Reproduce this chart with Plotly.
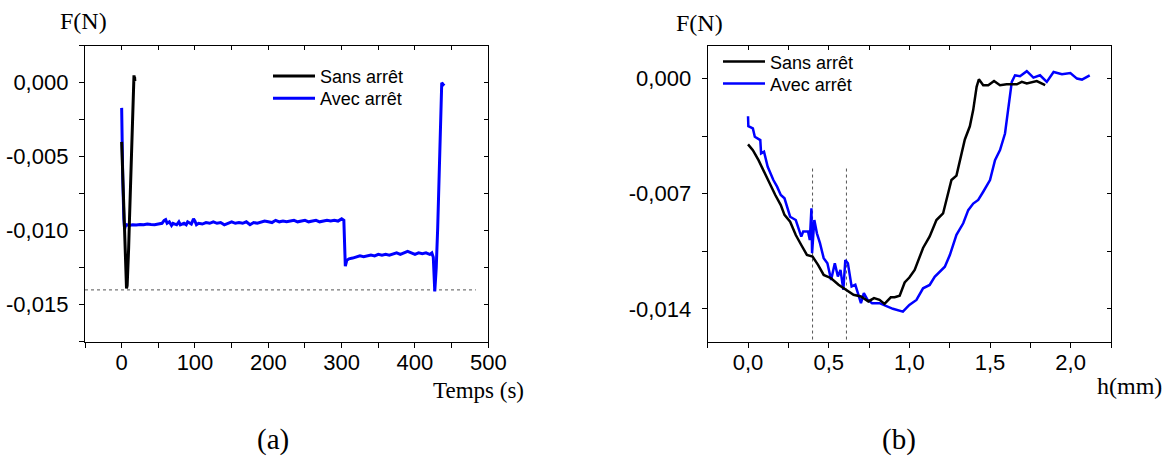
import plotly.graph_objects as go

W, H = 1173, 461

# ---------------- Panel (a): F(N) vs Temps (s) ----------------
t_sans = [0, 1, 2, 3, 4, 5, 6, 6.6, 7.5, 8.5, 9.5, 10.5, 11.5, 12.5, 13.5, 14.5,
          15.5, 16.2, 16.8, 17.2, 17.6, 18]
f_sans = [-0.0040, -0.0055, -0.0072, -0.0088, -0.0104, -0.0120, -0.0133, -0.0139,
          -0.0137, -0.0127, -0.0112, -0.0095, -0.0077, -0.0058, -0.0040, -0.0022,
          -0.0008, 0.0002, 0.0005, 0.0003, 0.0004, 0.0001]

t_avec = [0, 0.5, 1.5, 3, 4, 5, 7, 10, 15, 20, 25, 30, 35, 40, 45, 50, 55, 58, 60, 62,
          65, 68, 70, 75, 78, 80, 85, 88, 90, 95, 98, 100, 102, 105, 110, 115, 120, 125,
          130, 135, 140, 145, 150, 155, 160, 165, 170, 175, 180, 185, 190, 195, 200, 205,
          210, 215, 220, 225, 230, 235, 240, 245, 250, 255, 260, 265, 270, 275, 280, 285,
          290, 295, 300, 303, 305, 307, 310, 315, 320, 325, 330, 335, 340, 345, 350, 355,
          360, 365, 370, 375, 380, 385, 390, 395, 400, 405, 410, 415, 420, 423, 425, 427,
          429, 431, 433, 435, 436.5, 438, 440]
f_avec = [-0.0017, -0.0040, -0.0065, -0.0092, -0.0099, -0.0097, -0.0096, -0.00965,
          -0.0096, -0.00962, -0.00958, -0.0096, -0.00955, -0.00958, -0.0096, -0.00955,
          -0.0095, -0.0093, -0.00925, -0.0095, -0.0094, -0.00965, -0.0095, -0.0096,
          -0.0094, -0.0096, -0.0095, -0.0096, -0.0094, -0.00955, -0.0092, -0.00935,
          -0.0096, -0.0095, -0.00955, -0.00945, -0.0095, -0.0094, -0.0095, -0.00945,
          -0.0096, -0.0095, -0.0094, -0.0095, -0.00945, -0.0095, -0.0094, -0.0096,
          -0.00945, -0.0095, -0.0094, -0.00935, -0.0094, -0.00945, -0.0093, -0.0094,
          -0.00935, -0.0094, -0.00935, -0.0093, -0.0094, -0.00935, -0.0093, -0.0094,
          -0.00935, -0.0093, -0.0094, -0.00935, -0.0093, -0.00935, -0.0093, -0.00935,
          -0.0092, -0.0093, -0.0124, -0.0120, -0.0119, -0.01185, -0.0118, -0.0117,
          -0.01175, -0.0117, -0.01165, -0.0117, -0.0116, -0.01165, -0.0116, -0.01165,
          -0.0116, -0.0115, -0.0116, -0.0115, -0.0114, -0.0115, -0.0116, -0.0115,
          -0.01155, -0.0115, -0.0116, -0.0115, -0.0118, -0.0141, -0.0125, -0.0098,
          -0.0062, -0.0028, 0.0000, -0.0001, -0.0002]

ref_a_x = [-50, 483]
ref_a_y = [-0.014, -0.014]

xa_ticks = [-50, 0, 50, 100, 150, 200, 250, 300, 350, 400, 450, 500]
xa_text = ["", "0", "", "100", "", "200", "", "300", "", "400", "", "500"]
ya_ticks = [-0.0175, -0.015, -0.0125, -0.010, -0.0075, -0.005, -0.0025, 0.0, 0.0025]
ya_text = ["", "-0,015", "", "-0,010", "", "-0,005", "", "0,000", ""]

# ---------------- Panel (b): F(N) vs h(mm) ----------------
h_sans = [0, 0.03, 0.065, 0.099, 0.134, 0.169, 0.203, 0.226, 0.261, 0.296,
          0.330, 0.365, 0.400, 0.434, 0.469, 0.515, 0.561, 0.607, 0.654, 0.700,
          0.746, 0.781, 0.815, 0.846, 0.885, 0.909, 0.940, 0.971, 1.000, 1.033,
          1.085, 1.126, 1.168, 1.209, 1.240, 1.261, 1.292, 1.313, 1.344, 1.375,
          1.396, 1.417, 1.431, 1.458, 1.489, 1.525, 1.562, 1.603, 1.666, 1.697,
          1.728, 1.790, 1.842]
fb_sans = [-0.0040, -0.00435, -0.00496, -0.00566, -0.00637, -0.00708, -0.00769, -0.00829, -0.0087, -0.00951,
           -0.01012, -0.01072, -0.01082, -0.01133, -0.01194, -0.01214, -0.01254, -0.01285, -0.01315, -0.01325,
           -0.01355, -0.01335, -0.01345, -0.0137, -0.0133, -0.0133, -0.0132, -0.0124, -0.0121, -0.01164,
           -0.0103, -0.0096, -0.0086, -0.0082, -0.0070, -0.00617, -0.0059, -0.0050, -0.0037, -0.0029,
           -0.0019, -0.0005, -0.00004, -0.0004, -0.0004, -0.00015, -0.0004, -0.00035, -0.00035, -0.0002,
           -0.0003, -0.00015, -0.0004]

h_avec = [0, 0.002, 0.03, 0.042, 0.076, 0.081, 0.099, 0.122, 0.157, 0.180,
          0.203, 0.226, 0.261, 0.296, 0.330, 0.342, 0.372, 0.383, 0.393, 0.397,
          0.411, 0.427, 0.446, 0.469, 0.492, 0.515, 0.538, 0.557, 0.573, 0.591,
          0.603, 0.619, 0.642, 0.665, 0.681, 0.700, 0.718, 0.741, 0.769, 0.815,
          0.898, 0.960, 1.000, 1.044, 1.085, 1.126, 1.157, 1.189, 1.220, 1.251,
          1.292, 1.334, 1.365, 1.396, 1.427, 1.458, 1.500, 1.531, 1.562, 1.593,
          1.614, 1.635, 1.655, 1.686, 1.728, 1.769, 1.810, 1.852, 1.894, 1.946,
          1.998, 2.039, 2.070, 2.118]
fb_avec = [-0.00229, -0.00289, -0.00303, -0.00354, -0.00374, -0.00455, -0.00445, -0.00536, -0.00617, -0.00657,
           -0.00708, -0.00728, -0.0084, -0.0086, -0.00961, -0.0093, -0.0093, -0.00981, -0.00789, -0.01062,
           -0.0086, -0.00941, -0.01001, -0.01092, -0.01123, -0.01224, -0.01123, -0.01204, -0.01163, -0.01284,
           -0.01103, -0.01123, -0.01264, -0.01254, -0.01305, -0.01366, -0.01305, -0.01345, -0.01366, -0.01366,
           -0.0140, -0.01417, -0.01376, -0.01346, -0.01275, -0.01255, -0.01205, -0.01174, -0.01144, -0.01073,
           -0.0095, -0.0088, -0.0080, -0.0076, -0.00738, -0.00688, -0.00617, -0.00496, -0.00435, -0.00334,
           -0.00172, -0.0002, 0.0002, 0.00014, 0.00045, 0.00006, 0.0002, -0.0002, 0.0004, 0.00026,
           0.00034, 0.0, -0.00006, 0.0002]

guide_b_x = [0.40, 0.61]
guide_b_y = [-0.00547, -0.0159]

xb_ticks = [-0.25, 0, 0.25, 0.5, 0.75, 1.0, 1.25, 1.5, 1.75, 2.0, 2.25]
xb_text = ["", "0,0", "", "0,5", "", "1,0", "", "1,5", "", "2,0", ""]
yb_ticks = [-0.014, -0.0105, -0.007, -0.0035, 0.0]
yb_text = ["-0,014", "", "-0,007", "", "0,000"]

BLUE = "#0000FF"
BLACK = "#000000"
TICKFONT = dict(family="Liberation Sans, Arial, sans-serif", size=22, color="black")
LEGFONT = dict(family="Liberation Sans, Arial, sans-serif", size=18, color="black")
SERIF = "Liberation Serif, Times New Roman, serif"


def px_x(p):
    return p / W


def px_y(p):
    return 1 - p / H


# plot-area geometry (pixels)
A_X0, A_X1 = 85, 488.3
B_X0, B_X1 = 707.7, 1111
Y0, Y1 = 45.7, 341.7

fig = go.Figure()

# Panel (a) traces
fig.add_trace(go.Scatter(x=ref_a_x, y=ref_a_y, mode="lines", xaxis="x", yaxis="y",
                         line=dict(color="#555555", width=1, dash="dot"),
                         showlegend=False, hoverinfo="skip"))
fig.add_trace(go.Scatter(x=t_avec, y=f_avec, mode="lines", name="Avec arrêt",
                         xaxis="x", yaxis="y", legend="legend2",
                         line=dict(color=BLUE, width=3)))
fig.add_trace(go.Scatter(x=t_sans, y=f_sans, mode="lines", name="Sans arrêt",
                         xaxis="x", yaxis="y", legend="legend",
                         line=dict(color=BLACK, width=3)))

# Panel (b) traces
for gx in guide_b_x:
    fig.add_trace(go.Scatter(x=[gx, gx], y=guide_b_y, mode="lines", xaxis="x2", yaxis="y2",
                             line=dict(color="#555555", width=1, dash="dot"),
                             showlegend=False, hoverinfo="skip"))
fig.add_trace(go.Scatter(x=h_avec, y=fb_avec, mode="lines", name="Avec arrêt",
                         xaxis="x2", yaxis="y2", legend="legend4",
                         line=dict(color=BLUE, width=2.5)))
fig.add_trace(go.Scatter(x=h_sans, y=fb_sans, mode="lines", name="Sans arrêt",
                         xaxis="x2", yaxis="y2", legend="legend3",
                         line=dict(color=BLACK, width=2.5)))

# dummy traces so mirrored (inside-tick) axes are drawn
for xa, ya in [("x3", "y"), ("x", "y3"), ("x4", "y2"), ("x2", "y4")]:
    fig.add_trace(go.Scatter(x=[None], y=[None], xaxis=xa, yaxis=ya,
                             showlegend=False, hoverinfo="skip"))

common = dict(showgrid=False, zeroline=False, ticks="outside", ticklen=5, tickwidth=1.2,
              tickcolor="black", showline=True, linecolor="black", linewidth=1.3,
              mirror=True, tickfont=TICKFONT, tickmode="array", automargin=False)
inner = dict(showgrid=False, zeroline=False, ticks="inside", ticklen=4, tickwidth=1,
             tickcolor="black", showline=False, showticklabels=False, tickmode="array",
             automargin=False)


def leg(xp, yc):
    # legend positioned so that the entry's row centre sits at pixel yc
    return dict(x=px_x(xp), y=px_y(yc - 19), xanchor="left", yanchor="top",
                bgcolor="rgba(0,0,0,0)", borderwidth=0, itemwidth=42, font=LEGFONT)


fig.update_layout(
    width=W, height=H, autosize=False,
    margin=dict(l=0, r=0, t=0, b=0, pad=0, autoexpand=False),
    paper_bgcolor="white", plot_bgcolor="white",
    xaxis=dict(domain=[px_x(A_X0), px_x(A_X1)], range=[-50, 500], anchor="y",
               tickvals=xa_ticks, ticktext=xa_text, ticklabelstandoff=-4, **common),
    yaxis=dict(domain=[px_y(Y1), px_y(Y0)], range=[-0.0175, 0.0025], anchor="x",
               tickvals=ya_ticks, ticktext=ya_text, ticklabelstandoff=6, **common),
    xaxis2=dict(domain=[px_x(B_X0), px_x(B_X1)], range=[-0.25, 2.25], anchor="y2",
                tickvals=xb_ticks, ticktext=xb_text, ticklabelstandoff=-4, **common),
    yaxis2=dict(domain=[px_y(Y1), px_y(Y0)], range=[-0.016, 0.002], anchor="x2",
                tickvals=yb_ticks, ticktext=yb_text, ticklabelstandoff=6, **common),
    xaxis3=dict(overlaying="x", side="top", anchor="y", range=[-50, 500],
                tickvals=xa_ticks, **inner),
    yaxis3=dict(overlaying="y", side="right", anchor="x", range=[-0.0175, 0.0025],
                tickvals=ya_ticks, **inner),
    xaxis4=dict(overlaying="x2", side="top", anchor="y2", range=[-0.25, 2.25],
                tickvals=xb_ticks, **inner),
    yaxis4=dict(overlaying="y2", side="right", anchor="x2", range=[-0.016, 0.002],
                tickvals=yb_ticks, **inner),
    legend=leg(268, 76.7),
    legend2=leg(268, 99),
    legend3=leg(718, 62.3),
    legend4=leg(718, 84.3),
    showlegend=True,
)

annots = [
    ("F(N)", 83, 21, 24),
    ("Temps (s)", 478, 390, 23),
    ("(a)", 273, 439, 29),
    ("F(N)", 699, 23, 24),
    ("h(mm)", 1129, 386, 24),
    ("(b)", 899, 439, 29),
]
for text, x, y, size in annots:
    fig.add_annotation(text=text, x=px_x(x), y=px_y(y), xref="paper", yref="paper",
                       xanchor="center", yanchor="middle", showarrow=False,
                       font=dict(family=SERIF, size=size, color="black"))

fig.write_html("out.html",
               config={"displayModeBar": False, "responsive": False},
               post_script="document.documentElement.style.margin='0';"
                           "document.documentElement.style.overflow='hidden';"
                           "document.body.style.margin='0';"
                           "document.body.style.overflow='hidden';")
